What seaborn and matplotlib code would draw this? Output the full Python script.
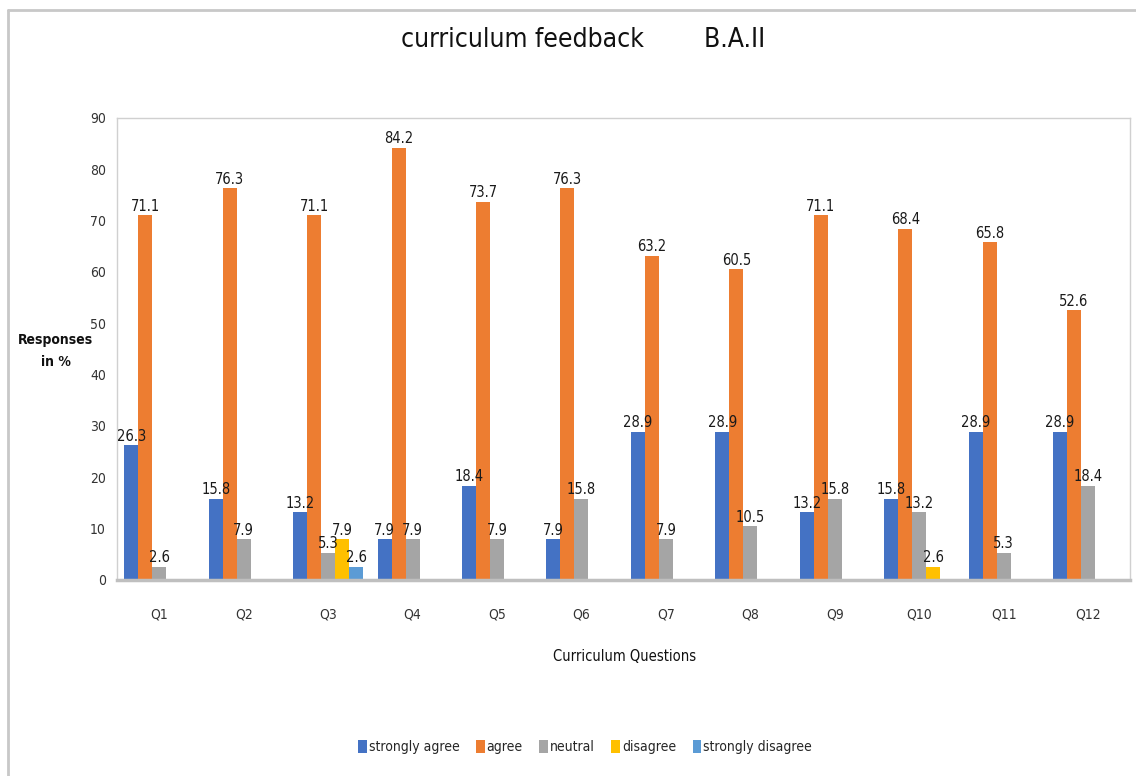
import matplotlib
matplotlib.use("Agg")
import matplotlib.pyplot as plt
from matplotlib.lines import Line2D
import pandas as pd
import seaborn as sns

QUESTIONS = ["Q1", "Q2", "Q3", "Q4", "Q5", "Q6", "Q7", "Q8", "Q9", "Q10", "Q11", "Q12"]
RESPONSES = ["strongly agree", "agree", "neutral", "disagree", "strongly disagree"]
strongly_agree = [26.3, 15.8, 13.2, 7.9, 18.4, 7.9, 28.9, 28.9, 13.2, 15.8, 28.9, 28.9]
agree = [71.1, 76.3, 71.1, 84.2, 73.7, 76.3, 63.2, 60.5, 71.1, 68.4, 65.8, 52.6]
neutral = [2.6, 7.9, 5.3, 7.9, 7.9, 15.8, 7.9, 10.5, 15.8, 13.2, 5.3, 18.4]
disagree = [0, 0, 7.9, 0, 0, 0, 0, 0, 0, 2.6, 0, 0]
strongly_disagree = [0, 0, 2.6, 0, 0, 0, 0, 0, 0, 0, 0, 0]
COLORS = ["#4472C4", "#ED7D31", "#A5A5A5", "#FFC000", "#5B9BD5"]

sns.set_style("white")
plt.rcParams["font.family"] = ["DejaVu Sans"]
plt.rcParams["font.stretch"] = "condensed"

series = [strongly_agree, agree, neutral, disagree, strongly_disagree]
rows = []
for name, vals in zip(RESPONSES, series):
    for q, v in zip(QUESTIONS, vals):
        rows.append({"question": q, "response": name, "value": v})
df = pd.DataFrame(rows)

fig = plt.figure(figsize=(11.36, 7.76), dpi=100)
ax = fig.add_axes([0.103, 0.2526, 0.892, 0.5954])

sns.barplot(data=df, x="question", y="value", hue="response", order=QUESTIONS,
            hue_order=RESPONSES, palette=COLORS, width=0.83, gap=0,
            saturation=1, linewidth=0, ax=ax, legend=True)

# data labels, skipping empty categories
for cont in ax.containers:
    labels = ["" if b.get_height() == 0 else "%.1f" % b.get_height() for b in cont]
    ax.bar_label(cont, labels=labels, padding=1, fontsize=10.5, color="#1a1a1a")

ax.set_ylim(0, 90)
ax.set_yticks(range(0, 91, 10))
ax.set_xlim(-0.5, 11.5)
ax.set_xlabel("")
ax.set_ylabel("")
ax.tick_params(axis="both", length=0, labelsize=10, colors="#333333")
ax.tick_params(axis="x", pad=20)
ax.tick_params(axis="y", pad=8)
for side in ["top", "left", "right"]:
    ax.spines[side].set_color("#D0D0D0")
    ax.spines[side].set_linewidth(1)
ax.spines["bottom"].set_color("#BFBFBF")
ax.spines["bottom"].set_linewidth(2.5)

fig.text(0.513, 0.948, "curriculum feedback        B.A.II", ha="center", va="center",
         fontsize=19, color="#111111")
fig.text(0.049, 0.548, "Responses\nin %", ha="center", va="center", fontsize=10,
         color="#111111", fontweight="bold", linespacing=1.7)
fig.text(0.55, 0.154, "Curriculum Questions", ha="center", va="center",
         fontsize=10.5, color="#111111")

handles, labels = ax.get_legend_handles_labels()
ax.legend_.remove()
fig.legend(handles, labels, loc="center", bbox_to_anchor=(0.515, 0.037), ncol=5,
           frameon=False, fontsize=10, handlelength=0.6, handleheight=1.0,
           handletextpad=0.15, columnspacing=1.2)

# outer chart border
fig.add_artist(Line2D([0.007, 1.0], [0.987, 0.987], transform=fig.transFigure,
                      color="#C8C8C8", lw=2))
fig.add_artist(Line2D([0.007, 0.007], [0.0, 0.987], transform=fig.transFigure,
                      color="#C8C8C8", lw=2))

fig.savefig("out.png", dpi=100)
